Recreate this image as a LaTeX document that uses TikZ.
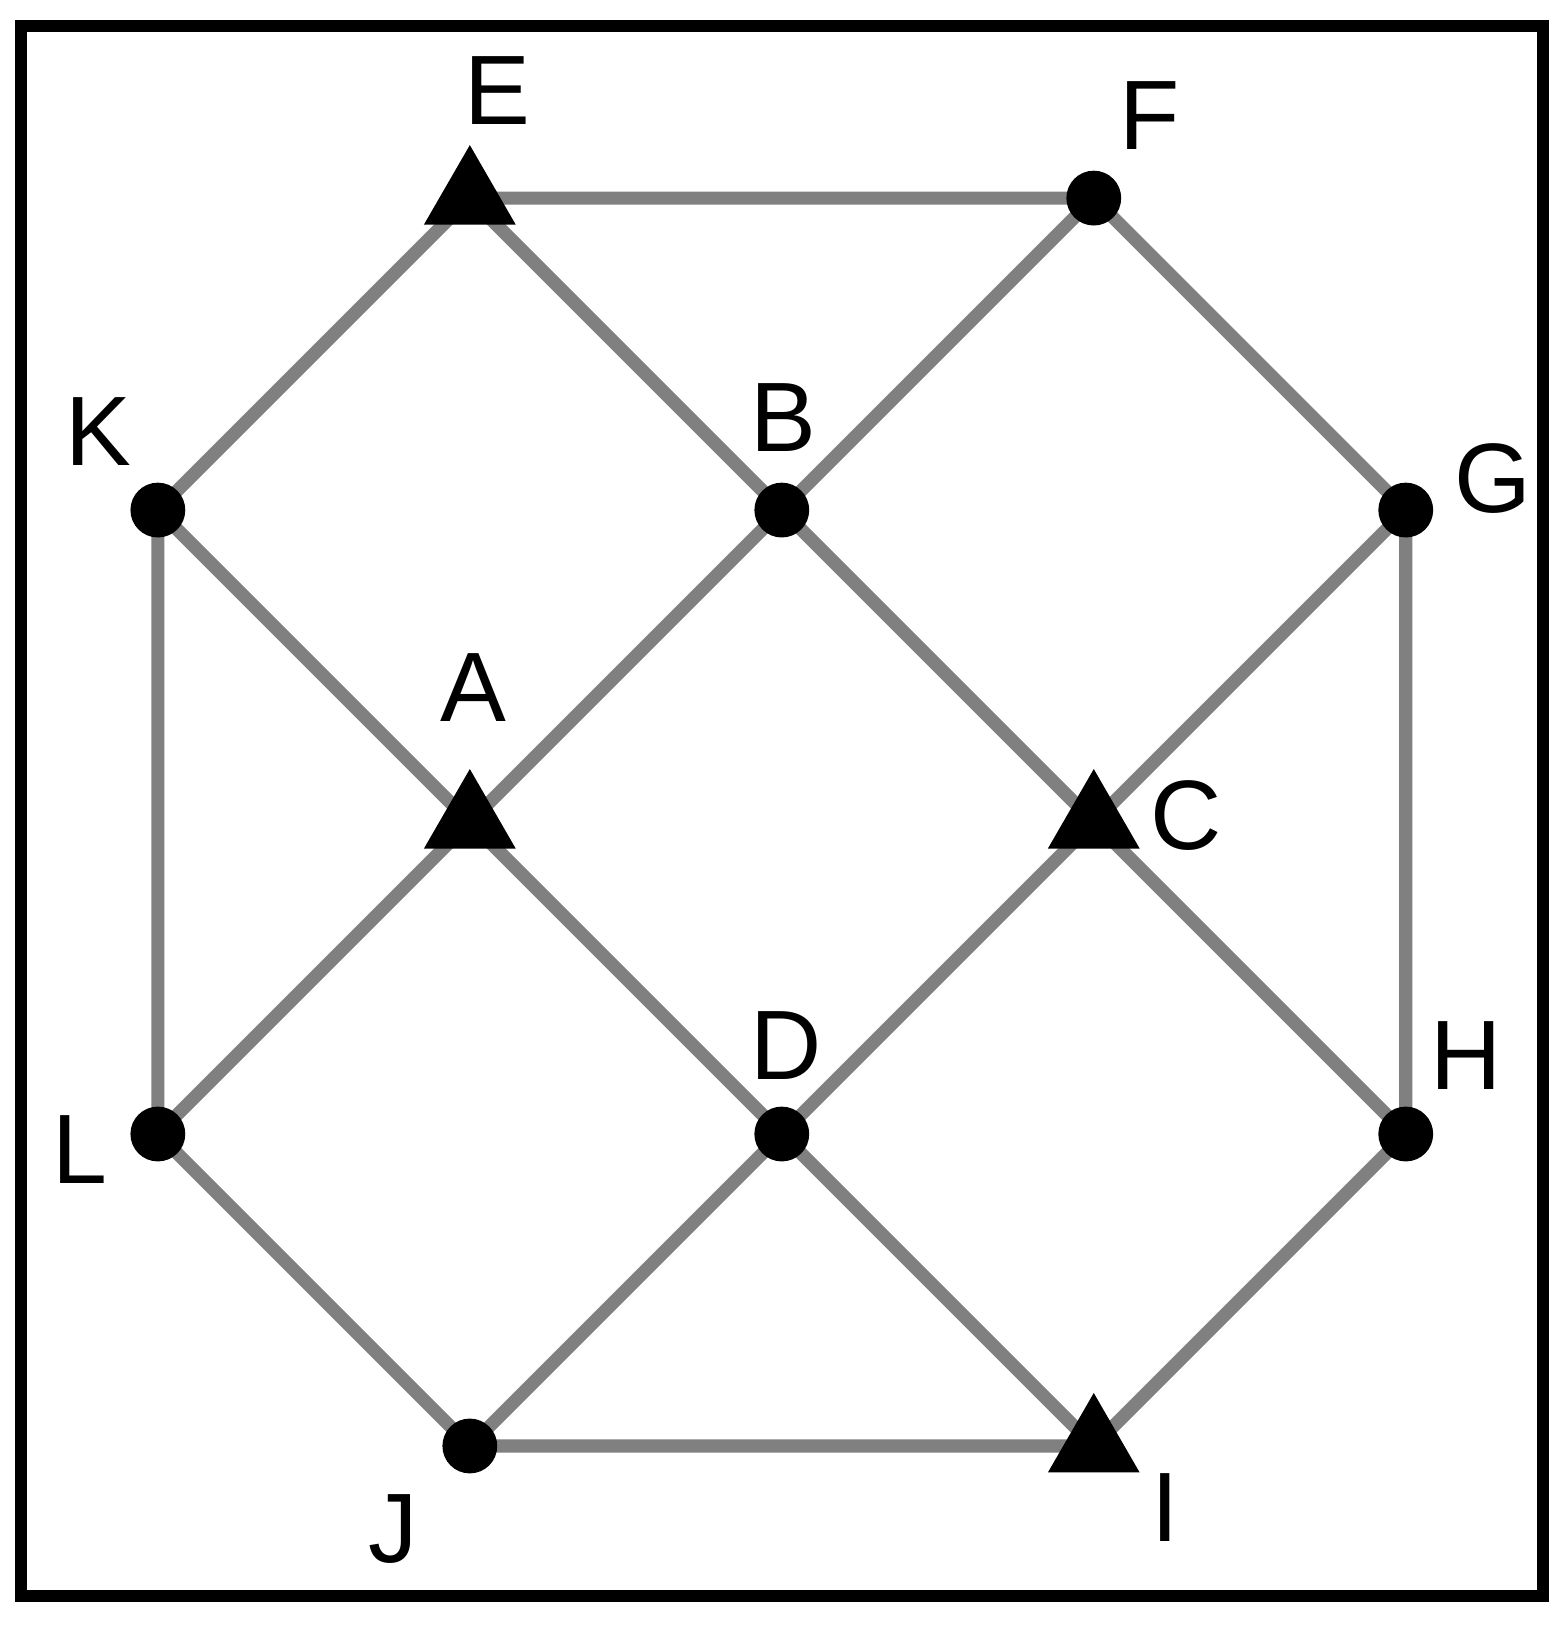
\documentclass[tikz,border=0pt]{standalone}
\usepackage{fontspec}
\setmainfont{Liberation Sans}
\usetikzlibrary{shapes.geometric,backgrounds}

\begin{document}
\begin{tikzpicture}[x=3cm, y=3cm,
  vertex/.style={circle, fill=black, inner sep=0pt, minimum size=15pt},
  special/.style={regular polygon, regular polygon sides=3, fill=black, inner sep=0pt, minimum size=29pt},
  lab/.style={font=\fontsize{27}{30}\selectfont, inner sep=0pt},
  edge/.style={draw=black!50, line width=3.6pt}]

\useasboundingbox (-0.506,-0.593) rectangle (4.513,4.635);
\draw[line width=3.2pt] (-0.439,-0.481) rectangle (4.439,4.551);

% vertices
\node[special] (E) at (1,4) {};
\node[vertex] (F) at (3,4) {};
\node[vertex] (K) at (0,3) {};
\node[vertex] (B) at (2,3) {};
\node[vertex] (G) at (4,3) {};
\node[special] (A) at (1,2) {};
\node[special] (C) at (3,2) {};
\node[vertex] (L) at (0,1) {};
\node[vertex] (D) at (2,1) {};
\node[vertex] (H) at (4,1) {};
\node[vertex] (J) at (1,0) {};
\node[special] (I) at (3,0) {};

% names
\node[lab] (Elab) at (1.087,4.346) {E};
\node[lab] (Flab) at (3.18,4.263) {F};
\node[lab] (Klab) at (-0.19,3.253) {K};
\node[lab] (Blab) at (2.005,3.295) {B};
\node[lab] (Glab) at (4.28,3.10) {G};
\node[lab] (Alab) at (1.01,2.43) {A};
\node[lab] (Clab) at (3.295,2.02) {C};
\node[lab] (Llab) at (-0.25,0.95) {L};
\node[lab] (Dlab) at (2.013,1.285) {D};
\node[lab] (Hlab) at (4.195,1.25) {H};
\node[lab] (Jlab) at (0.753,-0.266) {J};
\node[lab] (Ilab) at (3.228,-0.196) {I};

\begin{pgfonlayer}{background}
\draw[edge] (K.center) -- (E.center) -- (F.center) -- (G.center) -- (H.center) -- (I.center) -- (J.center) -- (L.center) -- (K.center);
\draw[edge] (E.center) -- (B.center) -- (C.center) -- (H.center);
\draw[edge] (K.center) -- (A.center) -- (D.center) -- (I.center);
\draw[edge] (F.center) -- (B.center) -- (A.center) -- (L.center);
\draw[edge] (G.center) -- (C.center) -- (D.center) -- (J.center);
\end{pgfonlayer}
\end{tikzpicture}
\end{document}
